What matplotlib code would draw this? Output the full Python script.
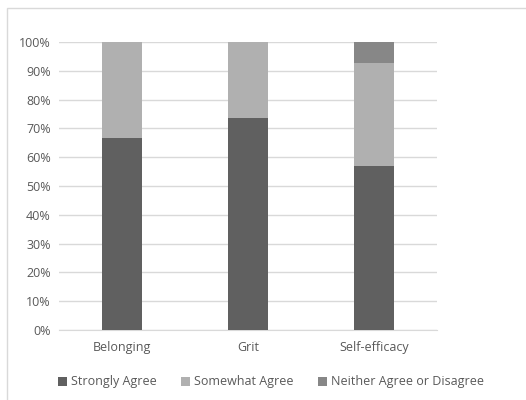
import matplotlib
matplotlib.use("Agg")
import matplotlib.pyplot as plt
from matplotlib.patches import Rectangle

categories = ["Belonging", "Grit", "Self-efficacy"]
strongly_agree = [66.7, 73.7, 57.1]
somewhat_agree = [33.3, 26.3, 35.7]
neither = [0.0, 0.0, 7.2]
series_names = ["Strongly Agree", "Somewhat Agree", "Neither Agree or Disagree"]
colors = ["#606060", "#b0b0b0", "#878787"]
yticks = [0, 10, 20, 30, 40, 50, 60, 70, 80, 90, 100]

plt.rcParams['font.family'] = ['Open Sans', 'DejaVu Sans']
fig = plt.figure(figsize=(5.26, 4.0), dpi=100)
W, H = 526, 400
ax = fig.add_axes([59 / W, 1 - 330 / H, 378 / W, 288 / H])

x = list(range(len(categories)))
bw = 0.32
b1 = ax.bar(x, strongly_agree, bw, color=colors[0], label=series_names[0], zorder=3)
b2 = ax.bar(x, somewhat_agree, bw, bottom=strongly_agree, color=colors[1], label=series_names[1], zorder=3)
bottoms = [a + b for a, b in zip(strongly_agree, somewhat_agree)]
b3 = ax.bar(x, neither, bw, bottom=bottoms, color=colors[2], label=series_names[2], zorder=3)

ax.set_xlim(-0.5, len(categories) - 0.5)
ax.set_ylim(0, 100)
ax.set_yticks(yticks)
ax.set_yticklabels([f"{v}%" for v in yticks])
ax.set_xticks(x)
ax.set_xticklabels(categories)
ax.grid(axis='y', color='#d9d9d9', linewidth=1, zorder=0)
for s in ['top', 'right', 'left']:
    ax.spines[s].set_visible(False)
ax.spines['bottom'].set_color('#d9d9d9')
ax.tick_params(axis='both', length=0, colors='#595959', labelsize=9)
ax.tick_params(axis='x', pad=8)
ax.tick_params(axis='y', pad=6)

leg = fig.legend(handles=[b1, b2, b3], loc='center', bbox_to_anchor=(271 / W, 1 - 382 / H),
                 ncol=3, frameon=False, fontsize=9, handlelength=0.7, handleheight=0.7,
                 handletextpad=0.3, columnspacing=2.0, labelcolor='#595959')

fig.patches.append(Rectangle((7 / W, -0.1), 1.2, 1 - 8 / H + 0.1, transform=fig.transFigure,
                             fill=False, edgecolor='#d9d9d9', linewidth=1))

fig.savefig("out.png", dpi=100)
